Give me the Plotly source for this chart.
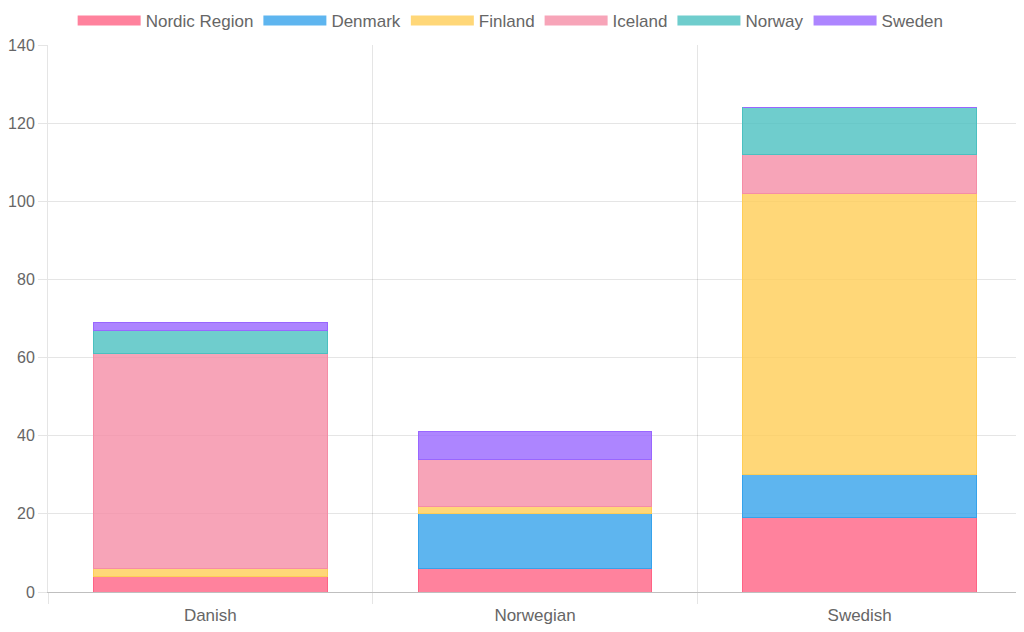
import plotly.graph_objects as go

categories = ["Danish", "Norwegian", "Swedish"]
nordic_region = [4, 6, 19]
denmark = [0, 14, 11]
finland = [2, 2, 72]
iceland = [55, 12, 10]
norway = [6, 0, 12]
sweden = [2, 7, 0]

series = [
    ("Nordic Region", nordic_region, "rgba(255,99,132,0.8)", "rgb(255,99,132)"),
    ("Denmark", denmark, "rgba(54,162,235,0.8)", "rgb(54,162,235)"),
    ("Finland", finland, "rgba(255,205,86,0.8)", "rgb(255,205,86)"),
    ("Iceland", iceland, "rgba(245,141,166,0.8)", "rgb(245,141,166)"),
    ("Norway", norway, "rgba(75,192,192,0.8)", "rgb(75,192,192)"),
    ("Sweden", sweden, "rgba(153,102,255,0.8)", "rgb(153,102,255)"),
]

fig = go.Figure()
for name, vals, fill, line in series:
    fig.add_trace(go.Bar(
        name=name, x=categories, y=vals, showlegend=False, legendgroup=name,
        marker=dict(color=fill, line=dict(color=line, width=1)),
    ))
# legend proxies (wide boxes like the reference legend)
for name, vals, fill, line in series:
    fig.add_trace(go.Scatter(
        name=name, x=[None], y=[None], mode="lines", legendgroup=name,
        line=dict(color=fill, width=18), hoverinfo="skip",
    ))

fam = "Liberation Sans, Arial, Helvetica, sans-serif"
fig.update_layout(
    barmode="stack",
    bargap=0.28,
    width=1016, height=624,
    margin=dict(l=40, r=2, t=37, b=40, autoexpand=False),
    paper_bgcolor="white", plot_bgcolor="white",
    font=dict(family=fam, size=17, color="#666666"),
    legend=dict(orientation="h", x=0.475, xanchor="center", y=1.044, yanchor="middle",
                font=dict(family=fam, size=17, color="#666666"), itemwidth=63,
                traceorder="normal", itemclick=False, itemdoubleclick=False),
    xaxis=dict(tickson="boundaries", ticks="outside", ticklen=11,
               tickcolor="rgba(0,0,0,0.1)", showgrid=True, ticklabelstandoff=8,
               gridcolor="rgba(0,0,0,0.1)", showline=True,
               linecolor="rgba(0,0,0,0.25)", tickfont=dict(family=fam, size=17, color="#666666")),
    yaxis=dict(range=[0, 140], dtick=20, ticks="outside", ticklen=9,
               tickcolor="rgba(0,0,0,0.1)", showgrid=True,
               gridcolor="rgba(0,0,0,0.1)", showline=True,
               linecolor="rgba(0,0,0,0.1)", zeroline=False,
               tickfont=dict(family=fam, size=16, color="#666666")),
)

fig.write_html("out.html")
